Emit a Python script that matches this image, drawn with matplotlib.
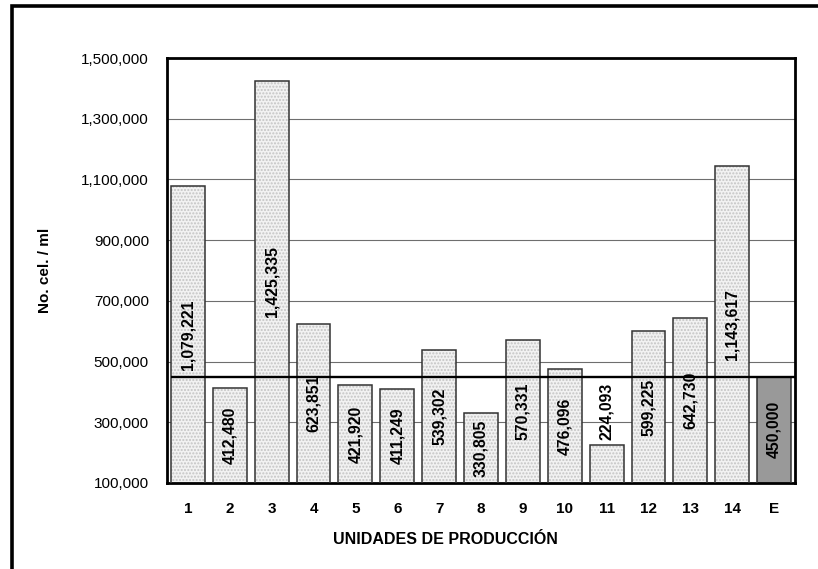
import matplotlib
matplotlib.use("Agg")
import matplotlib.pyplot as plt
from matplotlib.lines import Line2D

plt.rcParams['font.family'] = ['Liberation Sans', 'DejaVu Sans']

# Somatic cell counts per production unit, plus the reference standard (E)
unidades = ['1', '2', '3', '4', '5', '6', '7', '8', '9', '10', '11', '12', '13', '14', 'E']
celulas = [1079221, 412480, 1425335, 623851, 421920, 411249, 539302, 330805,
           570331, 476096, 224093, 599225, 642730, 1143617, 450000]
estandar = 450000
y_ticks = [100000, 300000, 500000, 700000, 900000, 1100000, 1300000, 1500000]

fig = plt.figure(figsize=(8.18, 5.69), dpi=100)
ax = fig.add_axes([167 / 818, 86 / 569, 628 / 818, 425 / 569])

ymin, ymax = y_ticks[0], y_ticks[-1]
x = list(range(len(unidades)))
width = 0.81

face = ['#f2f2f2'] * (len(unidades) - 1) + ['#999999']
hatch_col = ['#c4c4c4'] * (len(unidades) - 1) + ['#999999']

# dotted fill, then outline on top
for xi, v, fc, hc in zip(x, celulas, face, hatch_col):
    ax.bar(xi, v, width=width, color=fc, edgecolor=hc, linewidth=0,
           hatch='.....', zorder=2)
ax.bar(x, celulas, width=width, fill=False, edgecolor='#333333',
       linewidth=1.1, zorder=3)

# reference line for the standard
ax.plot([x[0] - width / 2, x[-1] + 0.53], [estandar, estandar], color='black',
        linewidth=1.7, zorder=4, clip_on=False, solid_capstyle='butt')

# value labels inside the bars
px_per_unit = 425 / (ymax - ymin)
for xi, v in zip(x, celulas):
    txt = f"{v:,}"
    if (v - ymin) * px_per_unit < 62:
        ax.text(xi, v + 16000, txt, rotation=90, ha='center', va='bottom',
                fontsize=11.3, fontweight='bold', zorder=5)
    else:
        ax.text(xi, (ymin + v) / 2, txt, rotation=90, ha='center', va='center',
                fontsize=11.3, fontweight='bold', zorder=5)

ax.set_xlim(-0.5, len(unidades) - 0.5)
ax.set_ylim(ymin, ymax)
ax.set_yticks(y_ticks)
ax.set_yticklabels([f"{t:,}" for t in y_ticks], fontsize=11)
ax.set_xticks(x)
ax.set_xticklabels(unidades, fontsize=11, fontweight='bold')
ax.tick_params(axis='y', length=0, pad=13)
ax.tick_params(axis='x', length=0, pad=14)

ax.yaxis.grid(True, color='#6e6e6e', linewidth=0.8, zorder=0)
ax.set_axisbelow(True)
for s in ax.spines.values():
    s.set_linewidth(2.0)
    s.set_color('black')

ax.text(-0.194, 0.5, 'No. cel. / ml', transform=ax.transAxes, rotation=90,
        ha='center', va='center', fontsize=11, fontweight='bold')
ax.text(0.444, -0.134, 'UNIDADES DE PRODUCCIÓN', transform=ax.transAxes,
        ha='center', va='center', fontsize=11.5, fontweight='bold')

# outer frame (left and top edges)
fx = 12 / 818
fy = 1 - 5.5 / 569
fig.add_artist(Line2D([fx, fx, 1], [0, fy, fy], transform=fig.transFigure,
                      color='black', linewidth=2.6, solid_joinstyle='miter'))

fig.savefig('out.png', dpi=100, facecolor='white')
